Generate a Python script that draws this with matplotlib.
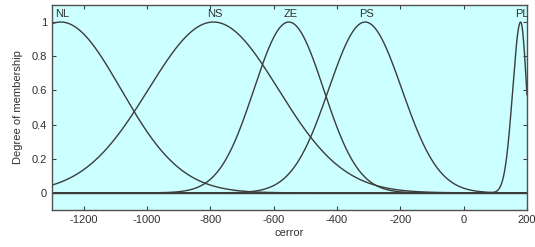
import matplotlib
matplotlib.use('Agg')
import matplotlib.pyplot as plt
import numpy as np

plt.rcParams['font.family'] = ['Liberation Sans', 'DejaVu Sans']
plt.rcParams['axes.unicode_minus'] = False

# membership functions: name, centre, left sigma, right sigma
mf_names = ['NL', 'NS', 'ZE', 'PS', 'PL']
mf_centres = [-1272, -790, -552, -311, 180]
mf_sigma_left = [190, 205, 110, 115, 25]
mf_sigma_right = [190, 205, 110, 116, 19]

x_range = [-1300, 200]
x_ticks = [-1200, -1000, -800, -600, -400, -200, 0, 200]
y_ticks = [0, 0.2, 0.4, 0.6, 0.8, 1]


def gauss2(x, c, sl, sr):
    """two sided gaussian membership"""
    s = np.where(x < c, sl, sr)
    return np.exp(-((x - c) ** 2) / (2.0 * s ** 2))


fig = plt.figure(figsize=(5.35, 2.47), dpi=100)
ax = fig.add_axes([0.097, 0.150, 0.888, 0.830])
ax.set_facecolor('#ccffff')

x = np.linspace(x_range[0], x_range[1], 1500)
line_col = '#3c3c3c'
ax.axhline(0, color=line_col, lw=1.0)
for name, c, sl, sr in zip(mf_names, mf_centres, mf_sigma_left, mf_sigma_right):
    ax.plot(x, gauss2(x, c, sl, sr), color=line_col, lw=1.0)
    ax.text(c + 5, 1.02, name, ha='center', va='bottom', fontsize=8, color='#303030')

ax.set_xlim(x_range)
ax.set_ylim(-0.1, 1.1)
ax.set_xticks(x_ticks)
ax.set_yticks(y_ticks)
ax.set_yticklabels(['0', '0.2', '0.4', '0.6', '0.8', '1'])
ax.tick_params(direction='in', top=True, right=True, labelsize=8,
               length=3, color='#404040', labelcolor='#303030')
for sp in ax.spines.values():
    sp.set_color('#505050')
    sp.set_linewidth(1.0)

ax.set_xlabel('cerror', fontsize=8, color='#303030', labelpad=2)
ax.set_ylabel('Degree of membership', fontsize=8, color='#303030', labelpad=6)

fig.savefig('out.png', dpi=100)
